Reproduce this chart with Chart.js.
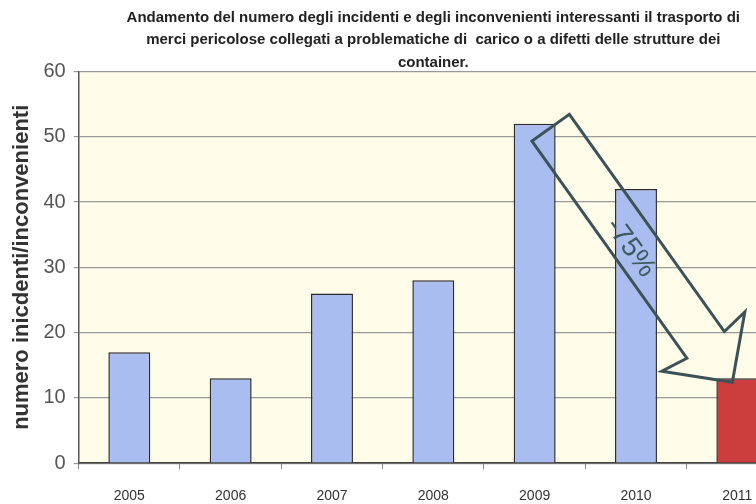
<!DOCTYPE html>
<html>
<head>
<meta charset="utf-8">
<script src="https://cdn.jsdelivr.net/npm/chart.js@4/dist/chart.umd.min.js"></script>
<style>
    html, body { margin: 0; padding: 0; background: #fff; overflow: hidden; }
    #wrap { width: 790px; height: 504px; }
</style>
</head>
<body>
<div id="wrap"><canvas id="grafico"></canvas></div>
<script>
const anni = ['2005', '2006', '2007', '2008', '2009', '2010', '2011'];
const eventi = [17, 13, 26, 28, 52, 42, 13];
const coloriBarre = ['#aabdf0', '#aabdf0', '#aabdf0', '#aabdf0', '#aabdf0', '#aabdf0', '#cc3d3d'];
const titolo = [
    'Andamento del numero degli incidenti e degli inconvenienti interessanti il trasporto di',
    'merci pericolose collegati a problematiche di  carico o a difetti delle strutture dei',
    'container.'
];

// sfondo crema dell'area del grafico
const sfondoArea = {
    id: 'sfondoArea',
    beforeDraw(chart) {
        const { ctx, chartArea } = chart;
        ctx.save();
        ctx.fillStyle = '#fffcea';
        ctx.fillRect(chartArea.left, chartArea.top, chartArea.right - chartArea.left, chartArea.bottom - chartArea.top);
        ctx.restore();
    }
};

// freccia dal 2009 al 2011 con la variazione percentuale
const freccia = {
    id: 'freccia',
    afterDatasetsDraw(chart) {
        const { ctx } = chart;
        const xs = chart.scales.x;
        const ys = chart.scales.y;
        const da = 4, a = 6;
        const x0 = xs.getPixelForValue(da) + 16, y0 = ys.getPixelForValue(eventi[da]) + 4;
        const x1 = xs.getPixelForValue(a) - 5, y1 = ys.getPixelForValue(eventi[a]) + 4;
        const ang = Math.atan2(y1 - y0, x1 - x0);
        const len = Math.hypot(x1 - x0, y1 - y0);
        const sw = 23, hw = 51, hl = 46;

        ctx.save();
        ctx.translate(x0, y0);
        ctx.rotate(ang);
        ctx.beginPath();
        ctx.moveTo(0, -sw);
        ctx.lineTo(len - hl, -sw);
        ctx.lineTo(len - hl - 4, -hw);
        ctx.lineTo(len, 0);
        ctx.lineTo(len - hl - 4, hw);
        ctx.lineTo(len - hl, sw);
        ctx.lineTo(0, sw);
        ctx.closePath();
        ctx.lineJoin = 'miter';
        ctx.lineWidth = 3;
        ctx.strokeStyle = '#3b5257';
        ctx.stroke();

        const perc = Math.round((eventi[a] - eventi[da]) / eventi[da] * 100);
        ctx.fillStyle = '#3b5a60';
        ctx.font = '28px "Liberation Sans Narrow", "Liberation Sans", sans-serif';
        ctx.textAlign = 'center';
        ctx.textBaseline = 'middle';
        ctx.fillText(perc + '%', 144, 5);
        ctx.restore();
    }
};

new Chart(document.getElementById('grafico'), {
    type: 'bar',
    data: {
        labels: anni,
        datasets: [{
            label: 'numero incidenti/inconvenienti',
            data: eventi,
            backgroundColor: coloriBarre,
            borderColor: '#2b2b2b',
            borderWidth: 1.5,
            barPercentage: 0.414,
            categoryPercentage: 1
        }]
    },
    options: {
        responsive: true,
        maintainAspectRatio: false,
        animation: false,
        layout: {
            padding: { left: 0, right: 2, top: 0, bottom: -19 }
        },
        plugins: {
            legend: { display: false },
            tooltip: { enabled: false },
            title: {
                display: true,
                fullSize: false,
                text: titolo,
                color: '#222',
                font: {
                    family: '"Liberation Sans", Arial, sans-serif',
                    size: 15,
                    weight: 'bold',
                    lineHeight: 1.52
                },
                padding: { top: 6, bottom: -3 }
            }
        },
        scales: {
            x: {
                grid: {
                    offset: true,
                    drawOnChartArea: false,
                    tickLength: 6,
                    color: '#888'
                },
                border: { color: '#444', width: 1.5 },
                ticks: {
                    color: '#333',
                    padding: 18.5,
                    font: { family: '"Liberation Sans", Arial, sans-serif', size: 14 }
                }
            },
            y: {
                min: 0,
                max: 60,
                ticks: {
                    stepSize: 10,
                    color: '#555',
                    padding: 8,
                    font: { family: '"Liberation Sans", Arial, sans-serif', size: 20 }
                },
                grid: {
                    color: '#999',
                    lineWidth: 1.2,
                    tickLength: 5
                },
                border: { color: '#555', width: 1.5 },
                title: {
                    display: true,
                    text: 'numero inicdenti/inconvenienti',
                    color: '#333',
                    padding: { top: 9, bottom: 0 },
                    font: { family: '"Liberation Sans", Arial, sans-serif', size: 22, weight: 'bold' }
                }
            }
        }
    },
    plugins: [sfondoArea, freccia]
});
</script>
</body>
</html>
